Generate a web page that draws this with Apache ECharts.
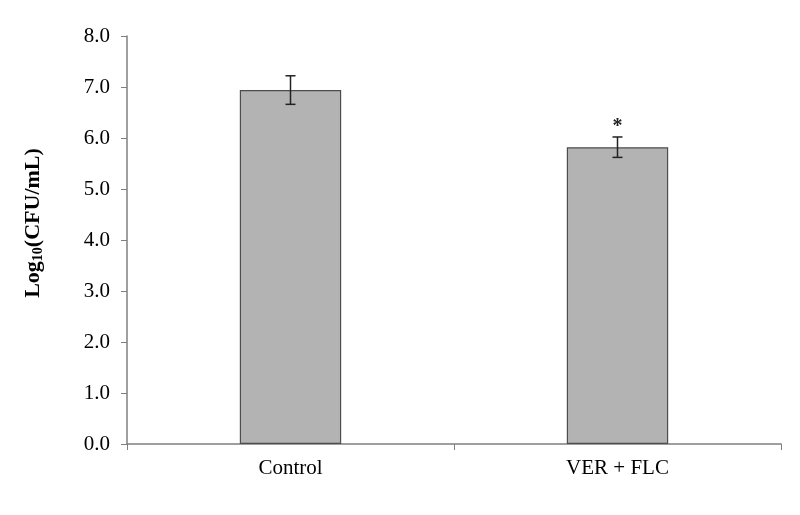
<!DOCTYPE html>
<html>
<head>
<meta charset="utf-8">
<script src="https://cdn.jsdelivr.net/npm/echarts@6/dist/echarts.min.js"></script>
<style>
  html, body { margin: 0; padding: 0; background: #fff; }
  #chart { width: 800px; height: 515px; }
</style>
</head>
<body>
<div id="chart"></div>
<script>
// values
const categories = ["Control", "VER + FLC"];
const means = [6.94, 5.82];
const errors = [0.28, 0.2];
const marks = ["", "*"];

const font = "'Liberation Serif', 'Times New Roman', serif";
const chart = echarts.init(document.getElementById("chart"));

chart.setOption({
  backgroundColor: "#fff",
  animation: false,
  grid: { left: 127, right: 19, top: 36, bottom: 71 },
  xAxis: {
    type: "category",
    data: categories,
    axisLine: { lineStyle: { color: "#7f7f7f", width: 1.5 } },
    axisTick: { show: true, length: 6, alignWithLabel: false, lineStyle: { color: "#7f7f7f" } },
    axisLabel: { color: "#000", fontFamily: font, fontSize: 21, margin: 14 },
  },
  yAxis: {
    type: "value",
    min: 0,
    max: 8,
    interval: 1,
    name: "{b|Log}{s|10}{b|(CFU/mL)}",
    nameLocation: "middle",
    nameRotate: 90,
    nameGap: 82,
    nameTextStyle: {
      padding: [0, 0, 0, 34],
      rich: {
        b: { fontFamily: font, fontSize: 22, fontWeight: "bold", color: "#000" },
        s: { fontFamily: font, fontSize: 14, fontWeight: "bold", color: "#000", verticalAlign: "bottom", padding: [9, 0, 0, 0] },
      },
    },
    axisLine: { show: true, lineStyle: { color: "#7f7f7f", width: 1.5 } },
    axisTick: { show: true, length: 6, lineStyle: { color: "#7f7f7f" } },
    splitLine: { show: false },
    axisLabel: {
      color: "#000",
      fontFamily: font,
      fontSize: 21,
      margin: 17,
      formatter: (v) => v.toFixed(1),
    },
  },
  series: [
    {
      type: "bar",
      data: means,
      barWidth: "31%",
      itemStyle: { color: "#b3b3b3", borderColor: "#4d4d4d", borderWidth: 1.2 },
    },
    {
      type: "custom",
      data: means.map((m, i) => [i, m - errors[i], m + errors[i]]),
      renderItem: (params, api) => {
        const i = api.value(0);
        const lo = api.coord([i, api.value(1)]);
        const hi = api.coord([i, api.value(2)]);
        const w = 5;
        const style = { stroke: "#222", lineWidth: 1.5 };
        const children = [
          { type: "line", shape: { x1: hi[0], y1: hi[1], x2: lo[0], y2: lo[1] }, style },
          { type: "line", shape: { x1: hi[0] - w, y1: hi[1], x2: hi[0] + w, y2: hi[1] }, style },
          { type: "line", shape: { x1: lo[0] - w, y1: lo[1], x2: lo[0] + w, y2: lo[1] }, style },
        ];
        if (marks[i]) {
          children.push({
            type: "text",
            style: {
              text: marks[i],
              x: hi[0],
              y: hi[1],
              align: "center",
              verticalAlign: "bottom",
              fontFamily: font,
              fontSize: 20,
              fontWeight: "bold",
              fill: "#222",
            },
          });
        }
        return { type: "group", children };
      },
      z: 5,
    },
  ],
});
</script>
</body>
</html>
